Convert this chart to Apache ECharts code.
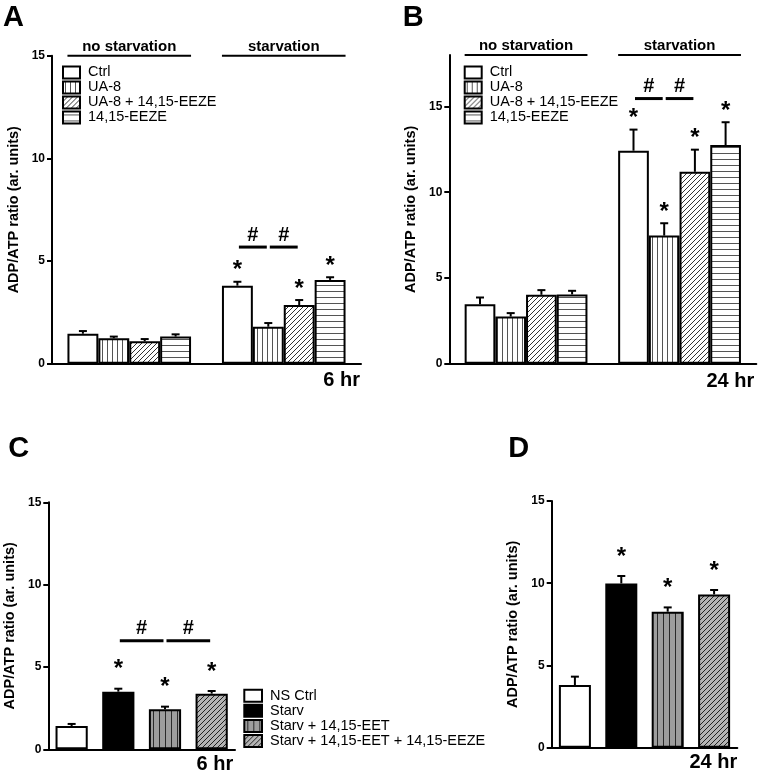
<!DOCTYPE html>
<html><head><meta charset="utf-8">
<script src="https://cdn.jsdelivr.net/npm/echarts@6/dist/echarts.min.js"></script>
<style>html,body{margin:0;padding:0;background:#fff}#c{width:762px;height:774px}</style>
</head><body><div id="c"></div>
<script>
// ---------------- data ----------------
const groupLabels = ['no starvation', 'starvation'];
const seriesNamesAB = ['Ctrl', 'UA-8', 'UA-8 + 14,15-EEZE', '14,15-EEZE'];
// per series: [no starvation, starvation]
const aMeans = [[1.46, 3.80], [1.24, 1.80], [1.09, 2.86], [1.32, 4.08]];
const aErrs  = [[0.13, 0.19], [0.08, 0.18], [0.11, 0.24], [0.11, 0.13]];
const aStars = [[0, 1], [0, 0], [0, 1], [0, 1]];
const bMeans = [[3.47, 12.42], [2.75, 7.47], [4.02, 11.19], [4.04, 12.75]];
const bErrs  = [[0.39, 1.23], [0.20, 0.72], [0.27, 1.29], [0.21, 1.33]];
const bStars = [[0, 1], [0, 1], [0, 1], [0, 1]];
const seriesNamesCD = ['NS Ctrl', 'Starv', 'Starv + 14,15-EET', 'Starv + 14,15-EET + 14,15-EEZE'];
const cMeans = [1.41, 3.50, 2.43, 3.38];
const cErrs  = [0.13, 0.18, 0.16, 0.16];
const cStars = [0, 1, 1, 1];
const dMeans = [3.81, 9.99, 8.27, 9.32];
const dErrs  = [0.51, 0.45, 0.26, 0.27];
const dStars = [0, 1, 1, 1];
// significance (#) brackets: level in y units, pairs of series indices
const sigA = {level: 5.68, pairs: [[0, 1], [1, 2]]};
const sigB = {level: 15.46, pairs: [[0, 1], [1, 2]]};
const sigC = {level: 6.59, pairs: [[1, 2], [2, 3]]};
const yTicksA = [0, 5, 10, 15], yMaxA = 15;
const yTicksB = [0, 5, 10, 15], yMaxB = 18;
const yTicksC = [0, 5, 10, 15], yMaxC = 15;
const yTicksD = [0, 5, 10, 15], yMaxD = 15;
const panelLetters = ['A', 'B', 'C', 'D'];
const timeLabels = ['6 hr', '24 hr', '6 hr', '24 hr'];
const yTitle = 'ADP/ATP ratio (ar. units)';

// ---------------- styling helpers ----------------
const FF = "'Liberation Sans', Arial, Helvetica, sans-serif";
function pattern(w, h, bg, draw) {
  const c = document.createElement('canvas');
  c.width = w; c.height = h;
  const g = c.getContext('2d');
  g.fillStyle = bg; g.fillRect(0, 0, w, h);
  draw(g, w, h);
  return {image: c, repeat: 'repeat'};
}
function vStripes(w, bg, fg, lw) {
  return pattern(w, w, bg, (g, W, H) => { g.fillStyle = fg; g.fillRect(Math.floor(W / 2), 0, lw, H); });
}
function hStripes(h, bg, fg, lw) {
  return pattern(h, h, bg, (g, W, H) => { g.fillStyle = fg; g.fillRect(0, Math.floor(H / 2), W, lw); });
}
function diag(s, bg, fg, lw) {
  return pattern(s, s, bg, (g, W, H) => {
    g.strokeStyle = fg; g.lineWidth = lw;
    g.beginPath();
    g.moveTo(0, H); g.lineTo(W, 0);
    g.moveTo(-1, 1); g.lineTo(1, -1);
    g.moveTo(W - 1, H + 1); g.lineTo(W + 1, H - 1);
    g.stroke();
  });
}
const fillsAB = ['#ffffff', vStripes(5, '#ffffff', '#555555', 1), diag(5, '#ffffff', '#333333', 1), hStripes(6, '#ffffff', '#555555', 1)];
const fillsCD = ['#ffffff', '#000000', vStripes(6, '#9d9d9d', '#2a2a2a', 1), diag(5, '#b4b4b4', '#222222', 1)];

const grids = [
  {left: 52, top: 55.7, width: 309, height: 308},
  {left: 449.3, top: 55, width: 307, height: 308.7},
  {left: 48.3, top: 502.3, width: 186.7, height: 247},
  {left: 551.7, top: 501, width: 185.6, height: 246.7}
];
const yMaxes = [yMaxA, yMaxB, yMaxC, yMaxD];
const yTicks = [yTicksA, yTicksB, yTicksC, yTicksD];
const nameGaps = [31, 31, 31, 31];

const axisLine = {show: true, lineStyle: {color: '#000', width: 2}};
const xAxes = [0, 1].map(i => ({
  type: 'value', gridIndex: i, min: 0, max: 10,
  axisLine, axisTick: {show: false}, axisLabel: {show: false}, splitLine: {show: false}
})).concat([2, 3].map(i => ({
  type: 'category', gridIndex: i, data: seriesNamesCD, boundaryGap: true,
  axisLine, axisTick: {show: false}, axisLabel: {show: false}, splitLine: {show: false}
})));
const yAxes = [0, 1, 2, 3].map(i => ({
  type: 'value', gridIndex: i, min: 0, max: yMaxes[i], interval: 5,
  axisLine, splitLine: {show: false},
  axisTick: {show: true, length: 5, customValues: yTicks[i], lineStyle: {color: '#000', width: 2}},
  axisLabel: {customValues: yTicks[i], color: '#000', fontSize: 12, fontWeight: 'bold', fontFamily: FF, margin: 7},
  name: yTitle, nameLocation: 'middle', nameGap: nameGaps[i],
  nameTextStyle: {color: '#000', fontSize: 14.5, fontWeight: 'bold', fontFamily: FF}
}));

function errRender(starGap) {
  return function (params, api) {
    const x = api.value(0), m = api.value(1), e = api.value(2), st = api.value(3);
    const p0 = api.coord([x, m]), p1 = api.coord([x, m + e]);
    const ch = [
      {type: 'line', shape: {x1: p0[0], y1: p0[1], x2: p1[0], y2: p1[1]}, style: {stroke: '#000', lineWidth: 2}},
      {type: 'line', shape: {x1: p1[0] - 4, y1: p1[1], x2: p1[0] + 4, y2: p1[1]}, style: {stroke: '#000', lineWidth: 2}}
    ];
    if (st) ch.push({type: 'text', style: {text: '*', x: p1[0], y: p1[1] - starGap, font: 'bold 24px ' + FF, align: 'center', verticalAlign: 'middle', fill: '#000'}});
    return {type: 'group', children: ch};
  };
}
function sigRender(params, api) {
  const a = api.coord([api.value(0), api.value(2)]), b = api.coord([api.value(1), api.value(2)]);
  return {type: 'group', children: [
    {type: 'line', shape: {x1: a[0] + 1.5, y1: a[1], x2: b[0] - 1.5, y2: b[1]}, style: {stroke: '#000', lineWidth: 3}},
    {type: 'text', style: {text: '#', x: (a[0] + b[0]) / 2, y: a[1] - 12, font: 'bold 20px ' + FF, align: 'center', verticalAlign: 'middle', fill: '#000'}}
  ]};
}
function headRender(params, api) {
  const a = api.coord([api.value(0), api.value(2)]), b = api.coord([api.value(1), api.value(2)]);
  return {type: 'group', children: [
    {type: 'line', shape: {x1: a[0], y1: a[1], x2: b[0], y2: b[1]}, style: {stroke: '#000', lineWidth: 2}},
    {type: 'text', style: {text: groupLabels[api.value(3)], x: (a[0] + b[0]) / 2, y: a[1] - 9, font: 'bold 15px ' + FF, align: 'center', verticalAlign: 'middle', fill: '#000'}}
  ]};
}

const series = [];
const barStyle = (c) => ({color: c, borderColor: '#000', borderWidth: 2});
// Panels A and B
[[aMeans, aErrs, aStars, sigA], [bMeans, bErrs, bStars, sigB]].forEach(([means, errs, stars, sig], p) => {
  const bw = grids[p].width / 10;
  const slot = (g, s) => g * 5 + s + 1;
  seriesNamesAB.forEach((name, s) => {
    series.push({type: 'bar', name, xAxisIndex: p, yAxisIndex: p, barWidth: bw, barGap: '-100%',
      itemStyle: barStyle(fillsAB[s]), data: [0, 1].map(g => [slot(g, s), means[s][g]]), z: 2, silent: true});
  });
  const ed = [];
  seriesNamesAB.forEach((n, s) => [0, 1].forEach(g => ed.push([slot(g, s), means[s][g], errs[s][g], stars[s][g]])));
  series.push({type: 'custom', xAxisIndex: p, yAxisIndex: p, data: ed, renderItem: errRender(11), z: 5, silent: true});
  series.push({type: 'custom', xAxisIndex: p, yAxisIndex: p, renderItem: sigRender, z: 5, silent: true,
    data: sig.pairs.map(([i, j]) => [slot(1, i), slot(1, j), sig.level])});
  series.push({type: 'custom', xAxisIndex: p, yAxisIndex: p, renderItem: headRender, z: 5, silent: true,
    data: [0, 1].map(g => [g * 5 + 0.5, g * 5 + 4.5, yMaxes[p], g])});
});
// Panels C and D
[[cMeans, cErrs, cStars, sigC], [dMeans, dErrs, dStars, null]].forEach(([means, errs, stars, sig], k) => {
  const p = k + 2;
  seriesNamesCD.forEach((name, s) => {
    series.push({type: 'bar', name, xAxisIndex: p, yAxisIndex: p, barWidth: '69%', barGap: '-100%',
      itemStyle: barStyle(fillsCD[s]), data: means.map((v, i) => i === s ? v : '-'), z: 2, silent: true});
  });
  series.push({type: 'custom', xAxisIndex: p, yAxisIndex: p, renderItem: errRender(19), z: 5, silent: true,
    data: means.map((v, i) => [i, v, errs[i], stars[i]])});
  if (sig) series.push({type: 'custom', xAxisIndex: p, yAxisIndex: p, renderItem: sigRender, z: 5, silent: true,
    data: sig.pairs.map(([i, j]) => [i, j, sig.level])});
});

const legendBase = {orient: 'vertical', icon: 'rect', itemWidth: 17, itemHeight: 12, itemGap: 0, padding: 0, selectedMode: false,
  itemStyle: {borderColor: '#000', borderWidth: 2},
  textStyle: {color: '#000', fontSize: 14.5, fontFamily: FF, padding: [0, 0, 0, 3]}};
const legends = [
  Object.assign({}, legendBase, {data: seriesNamesAB, left: 62, top: 64.9}),
  Object.assign({}, legendBase, {data: seriesNamesAB, left: 463.7, top: 64.9}),
  Object.assign({}, legendBase, {data: seriesNamesCD, left: 243.3, top: 688.2, itemWidth: 17.7, itemGap: 0.1})
];

const letterPos = [[3, 18], [402.7, 18], [8.3, 449], [508.3, 449]];
const timePos = [[360, 380], [754.3, 381], [233.3, 764.3], [737.3, 762.7]];
const graphic = [];
panelLetters.forEach((t, i) => graphic.push({type: 'text', x: letterPos[i][0], y: letterPos[i][1],
  style: {text: t, font: 'bold 29px ' + FF, fill: '#000', align: 'left', verticalAlign: 'middle'}}));
timeLabels.forEach((t, i) => graphic.push({type: 'text', x: timePos[i][0], y: timePos[i][1],
  style: {text: t, font: 'bold 20px ' + FF, fill: '#000', align: 'right', verticalAlign: 'middle'}}));

const chart = echarts.init(document.getElementById('c'), null, {renderer: 'canvas'});
chart.setOption({
  animation: false,
  backgroundColor: '#fff',
  textStyle: {fontFamily: FF},
  grid: grids,
  xAxis: xAxes,
  yAxis: yAxes,
  legend: legends,
  series,
  graphic
});
</script></body></html>
